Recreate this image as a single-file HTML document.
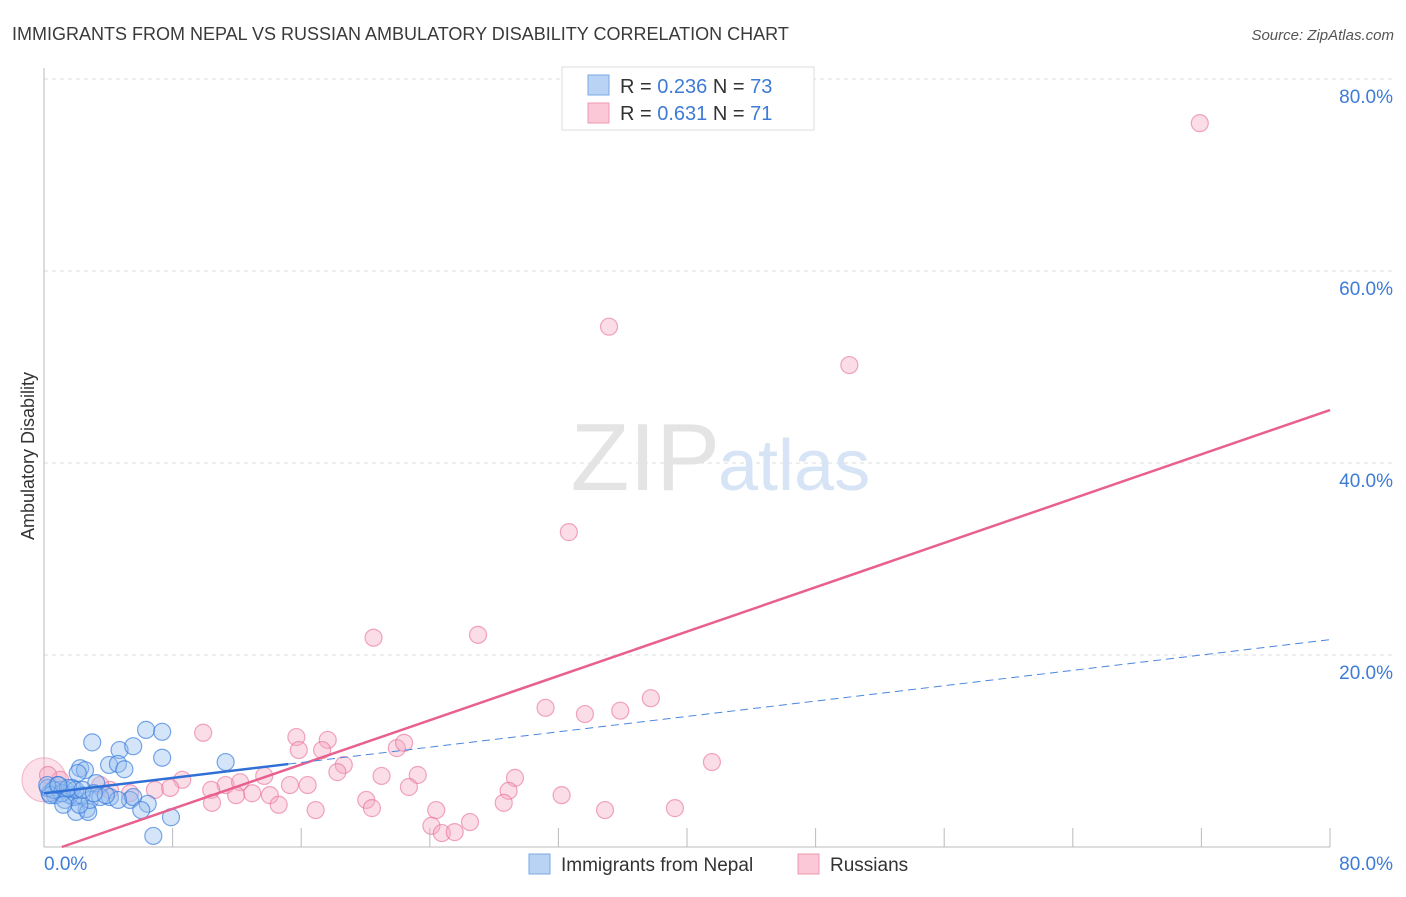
<!DOCTYPE html>
<html><head><meta charset="utf-8"><style>
body{margin:0;background:#fff;font-family:"Liberation Sans",sans-serif}
svg text{font-family:"Liberation Sans",sans-serif}
</style></head><body>
<svg id="chart" width="1406" height="892" xmlns="http://www.w3.org/2000/svg">
<text x="12" y="40" font-size="18" fill="#3a3a3a">IMMIGRANTS FROM NEPAL VS RUSSIAN AMBULATORY DISABILITY CORRELATION CHART</text>
<text x="1394" y="40" font-size="15" fill="#555" text-anchor="end" font-style="italic">Source: ZipAtlas.com</text>
<g id="grid"></g>
<text x="720" y="490" font-size="96" fill="#e4e4e4" text-anchor="end" font-family="Liberation Serif">ZIP</text>
<text x="718" y="490" font-size="72" fill="#d6e4f5">atlas</text>
<text transform="translate(34,456) rotate(-90)" font-size="18" fill="#333" text-anchor="middle">Ambulatory Disability</text>
<g id="marks"></g>
<g>
<rect x="562" y="67" width="252" height="63" fill="#fff" stroke="#ddd"/>
<rect x="588" y="75" width="21" height="20" fill="#b8d3f3" stroke="#7aaae6"/>
<rect x="588" y="103" width="21" height="20" fill="#fac8d6" stroke="#ef9ab2"/>
<text x="620" y="93" font-size="20" fill="#333">R = <tspan fill="#3d7bd6">0.236</tspan>   N = <tspan fill="#3d7bd6">73</tspan></text>
<text x="620" y="120" font-size="20" fill="#333">R =  <tspan fill="#3d7bd6">0.631</tspan>   N =  <tspan fill="#3d7bd6">71</tspan></text>
</g>
<g>
<rect x="529" y="854" width="21" height="20" fill="#b8d3f3" stroke="#7aaae6"/>
<text x="561" y="871" font-size="19" fill="#333">Immigrants from Nepal</text>
<rect x="798" y="854" width="21" height="20" fill="#fac8d6" stroke="#ef9ab2"/>
<text x="830" y="871" font-size="19" fill="#333">Russians</text>
</g>
</svg>
<script>
const nepalX=[3.0,6.35,7.35,4.7,5.55,7.35,11.3,4.05,4.6,5.0,2.25,2.55,2.1,3.25,4.1,5.35,5.55,6.45,6.05,6.8,7.9,2.65,2.0,2.75,1.85,1.0,0.7,0.35,1.35,1.6,0.25,2.35,2.85,3.5,0.85,1.3,1.75,4.6,3.85,2.2,1.95,1.1,0.6,0.4,0.2,1.5,2.4,3.1,1.2,0.9];
const nepalY=[10.9,12.2,12.0,10.1,10.5,9.3,8.85,8.55,8.65,8.1,8.2,8.0,7.7,6.65,5.2,4.9,5.2,4.5,3.85,1.15,3.1,3.95,3.65,3.65,5.2,5.95,5.4,5.6,5.95,5.4,6.15,5.4,4.9,5.2,6.45,4.9,6.15,4.9,5.4,4.4,5.95,5.6,5.95,5.4,6.45,6.15,5.95,5.6,4.4,6.45];
const rusX=[71.9,35.15,50.1,32.65,20.5,27.0,37.75,31.2,35.85,33.65,9.9,15.7,17.65,15.85,17.3,21.95,22.4,41.55,18.65,13.7,18.25,29.3,21.0,23.25,8.6,11.3,6.9,10.4,12.2,15.3,16.4,12.95,14.05,11.95,20.05,22.7,28.9,32.2,10.45,14.6,16.9,20.4,24.4,28.6,34.9,39.25,24.1,26.5,24.75,25.55,4.1,5.35,1.0,0.25,3.5,7.85];
const rusY=[75.4,54.2,50.2,32.8,21.8,22.1,15.5,14.5,14.2,13.85,11.9,11.45,11.15,10.1,10.1,10.3,10.85,8.85,8.55,7.4,7.8,7.2,7.4,7.5,7.0,6.45,5.95,5.95,6.75,6.45,6.45,5.6,5.4,5.4,4.9,6.25,5.85,5.4,4.6,4.4,3.85,4.05,3.85,4.6,3.85,4.05,2.2,2.6,1.45,1.55,5.95,5.6,7.0,7.5,6.45,6.15];
const xTicks=[0,80];
const yTicks=[20,40,60,80];
const nepalTrend=[5.6,0.2];   // intercept, slope
const rusTrend=[-0.64,0.577];
const nepalSolidMax=15.2;
const X=v=>44+v*1286/80, Y=v=>847-v*9.6;
const NS='http://www.w3.org/2000/svg';
function mk(t,a,p){const e=document.createElementNS(NS,t);for(const k in a)e.setAttribute(k,a[k]);p.appendChild(e);return e;}
const g=document.getElementById('grid'), m=document.getElementById('marks');
yTicks.forEach(t=>{
 const l=mk('line',{x1:44,x2:1394,y1:Y(t),y2:Y(t),stroke:'#ddd','stroke-dasharray':'4,4'},g);
 
 
 const tx=mk('text',{x:1393,y:Y(t)+24,'font-size':19,fill:'#3d7bd6','text-anchor':'end'},g);
 tx.textContent=t.toFixed(1)+'%';
 
 
});
const ax=mk('line',{x1:44,x2:44,y1:68,y2:847,stroke:'#bbb'},g);


const bx=mk('line',{x1:44,x2:1330,y1:847,y2:847,stroke:'#bbb'},g);


for(let i=1;i<=10;i++){const tk=mk('line',{x1:X(i*8),x2:X(i*8),y1:828,y2:847,stroke:'#bbb'},g);
 
 }
xTicks.forEach(t=>{const tx=mk('text',{x:t===0?44:1393,y:870,'font-size':19,fill:'#3d7bd6','text-anchor':t===0?'start':'end'},g);
 tx.textContent=t.toFixed(1)+'%';
 
 });
const big=mk('circle',{cx:X(0),cy:Y(7),r:22,fill:'rgba(246,170,195,0.35)',stroke:'rgba(236,120,155,0.5)'},m);


rusX.forEach((v,i)=>{const c=mk('circle',{cx:X(v),cy:Y(rusY[i]),r:8.5,fill:'rgba(246,170,195,0.4)',stroke:'rgba(232,110,150,0.6)','stroke-width':1.2},m);
 
 });
nepalX.forEach((v,i)=>{const c=mk('circle',{cx:X(v),cy:Y(nepalY[i]),r:8.5,fill:'rgba(150,190,240,0.4)',stroke:'rgba(50,120,220,0.65)','stroke-width':1.2},m);
 
 });
const rx0=(0-rusTrend[0])/rusTrend[1];
const rl=mk('line',{x1:X(rx0),y1:Y(0),x2:X(80),y2:Y(rusTrend[0]+rusTrend[1]*80),stroke:'#e8608f','stroke-width':2.5},m);


const nl=mk('line',{x1:X(0),y1:Y(nepalTrend[0]),x2:X(nepalSolidMax),y2:Y(nepalTrend[0]+nepalTrend[1]*nepalSolidMax),stroke:'#2f6fd6','stroke-width':2.5},m);


const nd=mk('line',{x1:X(nepalSolidMax),y1:Y(nepalTrend[0]+nepalTrend[1]*nepalSolidMax),x2:X(80),y2:Y(nepalTrend[0]+nepalTrend[1]*80),stroke:'#4a85dd','stroke-width':1,'stroke-dasharray':'8,5'},m);


</script>
</body></html>
